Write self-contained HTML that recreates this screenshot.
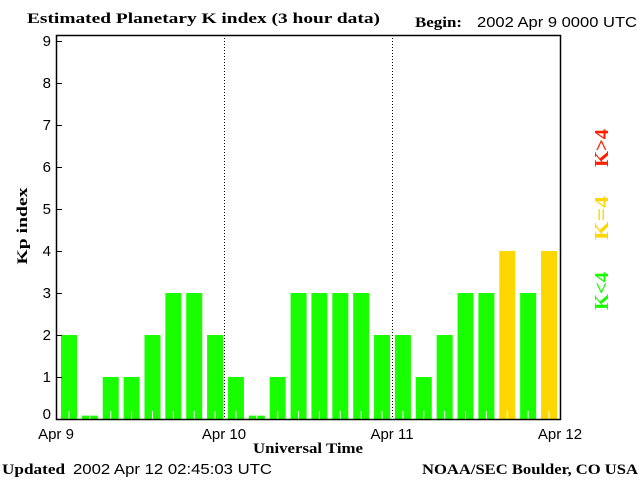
<!DOCTYPE html>
<html><head><meta charset="utf-8"><style>
body{margin:0;background:#fff;width:640px;height:480px;overflow:hidden}
svg{display:block}
.s{font-family:"Liberation Sans",sans-serif;font-size:15px}
.b{font-family:"Liberation Serif",serif;font-weight:bold;font-size:15px}
</style></head><body>
<svg width="640" height="480">
<text class="b" x="27" y="23" textLength="353" lengthAdjust="spacingAndGlyphs">Estimated Planetary K index (3 hour data)</text>
<text class="b" x="415" y="27" textLength="47" lengthAdjust="spacingAndGlyphs">Begin:</text>
<text class="s" x="477" y="27" textLength="160" lengthAdjust="spacingAndGlyphs">2002 Apr 9 0000 UTC</text>
<g id="bars"></g>
<g id="axes"></g>
<text class="b" transform="translate(27,226) rotate(-90)" text-anchor="middle" textLength="77" lengthAdjust="spacingAndGlyphs">Kp index</text>
<text class="b" x="253" y="453" textLength="110" lengthAdjust="spacingAndGlyphs">Universal Time</text>
<text class="b" x="2" y="474" textLength="63" lengthAdjust="spacingAndGlyphs">Updated</text>
<text class="s" x="73" y="474" textLength="199" lengthAdjust="spacingAndGlyphs">2002 Apr 12 02:45:03 UTC</text>
<text class="b" x="422" y="474" textLength="216" lengthAdjust="spacingAndGlyphs">NOAA/SEC Boulder, CO USA</text>
<text class="b" transform="translate(608,167) rotate(-90)" fill="#ff2000" style="font-size:20px" textLength="38" lengthAdjust="spacingAndGlyphs">K&gt;4</text>
<text class="b" transform="translate(608,240) rotate(-90)" fill="#ffd700" style="font-size:20px" textLength="44" lengthAdjust="spacingAndGlyphs">K=4</text>
<text class="b" transform="translate(608,310) rotate(-90)" fill="#1aff00" style="font-size:20px" textLength="38" lengthAdjust="spacingAndGlyphs">K&lt;4</text>
</svg>
<script>
const kpValues=[2,0,1,1,2,3,3,2, 1,0,1,3,3,3,3,2, 2,1,2,3,3,4,3,4];
const yTicks=[0,1,2,3,4,5,6,7,8,9];
const dayLabels=["Apr 9","Apr 10","Apr 11","Apr 12"];
const NS="http://www.w3.org/2000/svg";
const L=56,R=560,T=35,B=419;
function yS(v){return B-v*42;}
function xDay(d){return L+d*(R-L)/3;}
function xBar(i){return 61+i*20.87;}
function mk(t,a,p){const e=document.createElementNS(NS,t);for(const k in a)e.setAttribute(k,a[k]);p.appendChild(e);return e;}
const bars=document.getElementById('bars'),axes=document.getElementById('axes');
kpValues.forEach((v,i)=>{
  const h=v===0?0.08:v;
  const col=v<4?'#1aff00':(v===4?'#ffd700':'#ff2000');
  const r=mk('rect',{x:xBar(i),y:yS(h),width:16,height:B-yS(h),fill:col},bars);
  
  
  const t=mk('line',{x1:xBar(i)+8,x2:xBar(i)+8,y1:B-8,y2:B,stroke:'#fff','stroke-width':1},bars);
  
  
});
[1,2].forEach(d=>{
  const l=mk('line',{x1:xDay(d)+0.5,x2:xDay(d)+0.5,y1:T,y2:B,stroke:'#000','stroke-dasharray':'1,2'},axes);
  
  
});
const fr=mk('rect',{x:L+0.5,y:T+0.5,width:R-L,height:B-T,fill:'none',stroke:'#000','stroke-width':1.5},axes);


yTicks.forEach(v=>{
  mk('line',{x1:L,x2:L+6,y1:yS(v)+0.5,y2:yS(v)+0.5,stroke:'#000'},axes);
  const t=mk('text',{x:L-5,y:Math.min(yS(v),414)+5,'text-anchor':'end',class:'s'},axes);
  t.textContent=v;
  
  
});
dayLabels.forEach((s,d)=>{
  const t=mk('text',{x:xDay(d),y:439,'text-anchor':'middle',class:'s'},axes);
  t.textContent=s;
  
  
});
</script>
</body></html>
